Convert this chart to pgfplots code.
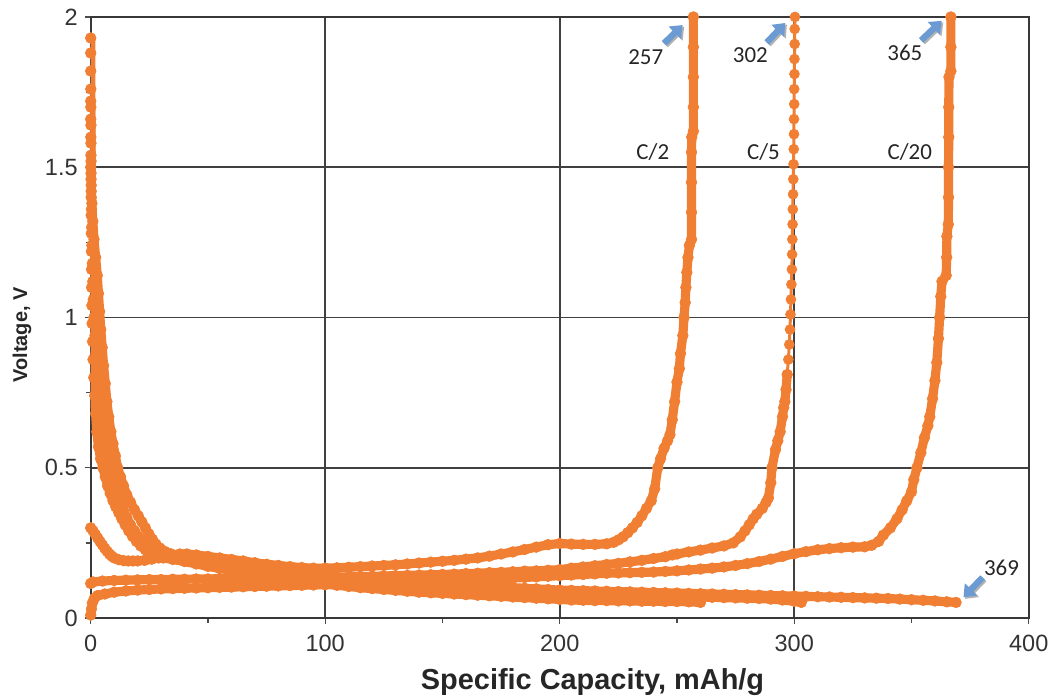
\documentclass[border=0pt]{standalone}
\usepackage{pgfplots}
\pgfplotsset{compat=1.18}
\usepackage{fontspec}
\setmainfont{Liberation Sans}
\newfontfamily\calibri{Carlito}
\usetikzlibrary{arrows.meta}
\definecolor{dataorange}{RGB}{241,127,51}
\definecolor{arrowblue}{RGB}{108,155,212}
\begin{document}
\begin{tikzpicture}
\begin{axis}[
 scale only axis, width=470.5pt, height=301.5pt,
 xmin=0,xmax=400,ymin=0,ymax=2,
 xtick={0,100,200,300,400}, ytick={0,0.5,1,1.5,2},
 minor x tick num=1, minor y tick num=1,
 tick pos=left,
 tick align=outside, major tick length=3pt, minor tick length=2.5pt,
 xmajorgrids, ymajorgrids,
 major grid style={black!75, line width=0.95pt},
 axis line style={black!78, line width=1.1pt},
 every tick/.style={black!70, line width=0.7pt},
 tick label style={font=\fontsize{11.8}{13}\selectfont, text=black!80},
 /pgf/number format/assume math mode=true,
 xticklabel style={yshift=-2pt},
 xlabel={Specific Capacity, mAh/g},
 ylabel={Voltage, V},
 xlabel style={font=\bfseries\fontsize{14.5}{17}\selectfont, at={(axis description cs:0.535,-0.1194)}, anchor=base, inner sep=0pt, text=black!85},
 ylabel style={font=\bfseries\fontsize{10}{12}\selectfont, at={(axis description cs:-0.0733,0.471)}, anchor=center, inner sep=0pt, text=black!85},
 ser/.style={color=dataorange, solid, mark=*, mark size=2.7pt, line width=4.6pt, line join=round, line cap=round, mark options={solid, line width=0.3pt, fill=dataorange, draw=dataorange}},
]
% Discharge 1 (ends ~260)
\addplot[ser] coordinates {(0,1.93)(0,1.88)(0,1.82)(0.05,1.76)(0.05,1.7)(0.1,1.64)(0.1,1.58)(0.15,1.52)(0.15,1.46)(0.2,1.4)(0.2,1.34)(0.25,1.28)(0.3,1.22)(0.35,1.16)(0.4,1.1)(0.5,1.04)(0.6,0.98)(0.8,0.92)(1.0,0.86)(1.3,0.8)(1.7,0.74)(2.1,0.68)(2.6,0.62)(3.3,0.57)(4.2,0.53)(5.2,0.5)(6.2,0.47)(7.2,0.44)(8.3,0.415)(9.5,0.39)(10.7,0.37)(12,0.35)(13.3,0.33)(14.7,0.31)(16.2,0.29)(17.8,0.272)(19.5,0.255)(21.3,0.24)(23.3,0.227)(25.5,0.216)(28,0.207)(31,0.2)(35,0.195)(40,0.188)(45,0.18)(50,0.172)(55,0.165)(60,0.158)(65,0.152)(70,0.146)(75,0.14)(80,0.134)(85,0.129)(90,0.124)(95,0.118)(100,0.113)(105,0.109)(110,0.105)(115,0.101)(120,0.098)(125,0.095)(130,0.092)(135,0.089)(140,0.086)(145,0.084)(150,0.082)(155,0.08)(160,0.078)(165,0.076)(170,0.074)(175,0.072)(180,0.07)(185,0.068)(190,0.066)(195,0.064)(200,0.062)(205,0.06)(210,0.059)(215,0.058)(220,0.058)(225,0.057)(230,0.057)(235,0.056)(240,0.056)(245,0.055)(250,0.055)(255,0.054)(260,0.052)};
% Discharge 2 (ends ~303)
\addplot[ser] coordinates {(0,1.72)(0,1.66)(0.05,1.6)(0.1,1.54)(0.15,1.48)(0.2,1.42)(0.3,1.36)(0.4,1.3)(0.5,1.24)(0.7,1.18)(0.9,1.12)(1.1,1.06)(1.4,1.0)(1.8,0.94)(2.3,0.88)(2.8,0.82)(3.4,0.76)(4.1,0.7)(4.9,0.64)(5.8,0.59)(6.8,0.55)(7.8,0.51)(8.9,0.475)(10,0.445)(11.2,0.415)(12.5,0.385)(13.9,0.36)(15.4,0.335)(17,0.31)(18.7,0.29)(20.5,0.27)(22.5,0.252)(24.7,0.236)(27,0.222)(29.5,0.212)(32.5,0.205)(36,0.2)(40,0.196)(45,0.19)(50,0.183)(55,0.176)(60,0.17)(65,0.164)(70,0.158)(75,0.153)(80,0.148)(85,0.143)(90,0.139)(95,0.135)(100,0.131)(105,0.127)(110,0.124)(115,0.121)(120,0.118)(125,0.115)(130,0.112)(135,0.11)(140,0.107)(145,0.105)(150,0.103)(155,0.1)(160,0.098)(165,0.096)(170,0.094)(175,0.092)(180,0.09)(185,0.088)(190,0.086)(195,0.084)(200,0.082)(205,0.081)(210,0.08)(215,0.079)(220,0.078)(225,0.077)(230,0.076)(235,0.075)(240,0.074)(245,0.073)(250,0.072)(255,0.071)(260,0.07)(265,0.069)(270,0.068)(275,0.067)(280,0.066)(285,0.065)(290,0.063)(295,0.06)(300,0.056)(303,0.052)};
% Discharge 3 (C/20, ends 369)
\addplot[ser] coordinates {(0,1.5)(0.2,1.44)(0.5,1.38)(0.9,1.32)(1.4,1.26)(2.1,1.2)(2.8,1.14)(3.3,1.08)(3.8,1.02)(4.3,0.96)(4.9,0.9)(5.5,0.84)(6.2,0.78)(6.9,0.72)(7.7,0.67)(8.6,0.62)(9.5,0.58)(10.5,0.54)(11.5,0.5)(12.7,0.47)(14,0.44)(15.4,0.41)(17,0.385)(18.7,0.36)(20.3,0.34)(21.8,0.32)(23.3,0.3)(24.8,0.28)(26.3,0.262)(27.8,0.246)(29.5,0.233)(31.5,0.222)(34,0.214)(37,0.208)(40,0.204)(45,0.199)(50,0.193)(55,0.187)(60,0.181)(65,0.175)(70,0.169)(75,0.163)(80,0.158)(85,0.153)(90,0.148)(95,0.144)(100,0.14)(105,0.136)(110,0.133)(115,0.13)(120,0.127)(125,0.124)(130,0.121)(135,0.119)(140,0.117)(145,0.115)(150,0.113)(155,0.111)(160,0.109)(165,0.107)(170,0.105)(175,0.103)(180,0.101)(185,0.099)(190,0.097)(195,0.095)(200,0.093)(205,0.092)(210,0.091)(215,0.09)(220,0.089)(225,0.088)(230,0.087)(235,0.086)(240,0.085)(245,0.084)(250,0.083)(255,0.082)(260,0.081)(265,0.08)(270,0.079)(275,0.078)(280,0.077)(285,0.076)(290,0.075)(295,0.074)(300,0.073)(305,0.072)(310,0.071)(315,0.07)(320,0.069)(325,0.068)(330,0.067)(335,0.066)(340,0.065)(345,0.063)(350,0.061)(355,0.059)(360,0.057)(365,0.054)(369,0.052)};
% Charge C/2 (257)
\addplot[ser] coordinates {(0,0.3)(1,0.29)(2,0.278)(3,0.266)(4,0.254)(5,0.243)(6,0.232)(7,0.222)(8,0.213)(9,0.206)(10,0.2)(12,0.194)(14,0.191)(16,0.19)(18,0.19)(20,0.19)(23,0.192)(26,0.196)(29,0.2)(32,0.205)(35,0.21)(38,0.213)(41,0.213)(45,0.21)(50,0.205)(55,0.2)(60,0.195)(65,0.19)(70,0.184)(75,0.179)(80,0.175)(85,0.171)(90,0.168)(95,0.166)(100,0.166)(105,0.167)(110,0.169)(115,0.171)(120,0.173)(125,0.175)(130,0.177)(135,0.18)(140,0.183)(145,0.186)(150,0.189)(155,0.192)(160,0.196)(165,0.2)(170,0.206)(175,0.213)(180,0.22)(185,0.228)(190,0.236)(195,0.244)(200,0.248)(205,0.246)(210,0.245)(215,0.245)(220,0.247)(223,0.252)(225,0.26)(227,0.27)(229,0.284)(231,0.3)(233,0.318)(235,0.34)(237,0.365)(239,0.39)(240.5,0.43)(241.8,0.5)(243,0.53)(244.5,0.565)(246,0.59)(247,0.61)(248,0.66)(249,0.72)(250,0.785)(251,0.83)(251.5,0.88)(252.5,0.94)(253,1.0)(253.5,1.05)(253.8,1.1)(254.2,1.15)(254.7,1.2)(255.3,1.24)(256.2,1.26)(256.2,1.35)(256.2,1.45)(256.2,1.55)(256.3,1.6)(257,1.62)(257,1.7)(257,1.8)(257,1.9)(257,2.0)};
% Charge C/5 (302): dense lower part
\addplot[ser] coordinates {(0,0.115)(1,0.12)(5,0.123)(10,0.125)(15,0.126)(20,0.127)(25,0.128)(30,0.128)(35,0.129)(40,0.129)(45,0.13)(50,0.13)(55,0.131)(60,0.131)(65,0.132)(70,0.132)(75,0.133)(80,0.133)(85,0.134)(90,0.134)(95,0.135)(100,0.135)(105,0.136)(110,0.137)(115,0.138)(120,0.139)(125,0.14)(130,0.141)(135,0.142)(140,0.143)(145,0.144)(150,0.145)(155,0.146)(160,0.148)(165,0.149)(170,0.151)(175,0.152)(180,0.154)(185,0.156)(190,0.157)(195,0.159)(200,0.161)(205,0.166)(210,0.17)(215,0.174)(220,0.178)(225,0.182)(230,0.187)(235,0.192)(240,0.198)(245,0.204)(248,0.21)(250,0.213)(255,0.22)(260,0.226)(265,0.233)(270,0.24)(274,0.25)(277,0.27)(279,0.29)(280.8,0.31)(282.5,0.33)(284,0.345)(286.4,0.365)(288,0.385)(289,0.4)(290,0.45)(290.5,0.5)(292,0.56)(293,0.59)(294,0.62)(295,0.67)(295.5,0.7)(296,0.72)(296.5,0.76)(297,0.81)};
% Charge C/5 (302): sparse upper part
\addplot[ser, line width=1.5pt, mark size=2.5pt] coordinates {(297,0.81)(297.5,0.86)(297.9,0.91)(298.2,0.96)(298.4,1.01)(298.6,1.06)(298.8,1.11)(299,1.16)(299.1,1.21)(299.2,1.26)(299.3,1.31)(299.4,1.36)(299.5,1.41)(299.6,1.46)(299.7,1.51)(299.8,1.56)(299.9,1.61)(299.9,1.66)(300,1.71)(300,1.76)(300.1,1.81)(300.1,1.86)(300.2,1.91)(300.2,1.96)(300.3,2.0)};
% Charge C/20 (365)
\addplot[ser] coordinates {(0,0.01)(0.3,0.03)(0.7,0.05)(1.5,0.065)(3,0.075)(6,0.08)(10,0.086)(15,0.09)(20,0.093)(25,0.095)(30,0.097)(35,0.098)(40,0.099)(45,0.1)(50,0.101)(55,0.102)(60,0.103)(65,0.104)(70,0.105)(75,0.106)(80,0.107)(85,0.108)(90,0.109)(95,0.11)(100,0.111)(105,0.112)(110,0.113)(115,0.114)(120,0.115)(125,0.116)(130,0.117)(135,0.118)(140,0.119)(145,0.12)(150,0.121)(155,0.123)(160,0.125)(165,0.127)(170,0.129)(175,0.131)(180,0.133)(185,0.135)(190,0.137)(195,0.139)(200,0.141)(205,0.143)(210,0.145)(215,0.147)(220,0.149)(225,0.15)(230,0.151)(235,0.152)(240,0.153)(245,0.155)(250,0.157)(255,0.16)(260,0.163)(265,0.166)(270,0.17)(275,0.175)(280,0.181)(285,0.188)(290,0.196)(295,0.205)(300,0.214)(305,0.221)(310,0.227)(315,0.231)(320,0.234)(325,0.236)(330,0.237)(333,0.242)(336,0.255)(338,0.276)(341,0.3)(343.8,0.33)(346,0.36)(348,0.39)(350,0.42)(351,0.46)(352.3,0.5)(354,0.55)(355.5,0.6)(357,0.64)(357.8,0.67)(359,0.73)(360,0.79)(360.8,0.85)(361.5,0.93)(362,1.0)(362.5,1.07)(363,1.12)(364.8,1.14)(365,1.2)(365.1,1.27)(365.7,1.31)(365.8,1.4)(365.8,1.5)(365.9,1.6)(365.9,1.7)(366,1.8)(366.8,1.82)(366.8,1.9)(366.8,2.0)};
% annotations
\begin{scope}[font=\calibri\fontsize{11.5}{13}\selectfont, text=black!85]
\node at (axis cs:236.7,1.867) {257};
\node at (axis cs:281.3,1.874) {302};
\node at (axis cs:347.2,1.88) {365};
\node at (axis cs:388.4,0.168) {369};
\node at (axis cs:239.7,1.552) {C/2};
\node at (axis cs:286.9,1.552) {C/5};
\node at (axis cs:349.3,1.552) {C/20};
\end{scope}
\begin{scope}[line width=3.2pt, -{Triangle[width=8.5pt,length=5.5pt]}]
\draw[black!30, transform canvas={xshift=0.8pt,yshift=-0.8pt}] (axis cs:244.5,1.912) -- (axis cs:252.4,1.973);
\draw[black!30, transform canvas={xshift=0.8pt,yshift=-0.8pt}] (axis cs:288.3,1.915) -- (axis cs:296.2,1.98);
\draw[black!30, transform canvas={xshift=0.8pt,yshift=-0.8pt}] (axis cs:354.1,1.922) -- (axis cs:362.9,1.987);
\draw[black!30, transform canvas={xshift=0.8pt,yshift=-0.8pt}] (axis cs:380.3,0.135) -- (axis cs:372.2,0.069);
\draw[arrowblue] (axis cs:244.5,1.912) -- (axis cs:252.4,1.973);
\draw[arrowblue] (axis cs:288.3,1.915) -- (axis cs:296.2,1.98);
\draw[arrowblue] (axis cs:354.1,1.922) -- (axis cs:362.9,1.987);
\draw[arrowblue] (axis cs:380.3,0.135) -- (axis cs:372.2,0.069);
\end{scope}
\end{axis}
\path ([xshift=-45.5pt,yshift=-38pt]current axis.south west) rectangle ([xshift=11.5pt,yshift=8.5pt]current axis.north east);
\end{tikzpicture}
\end{document}
